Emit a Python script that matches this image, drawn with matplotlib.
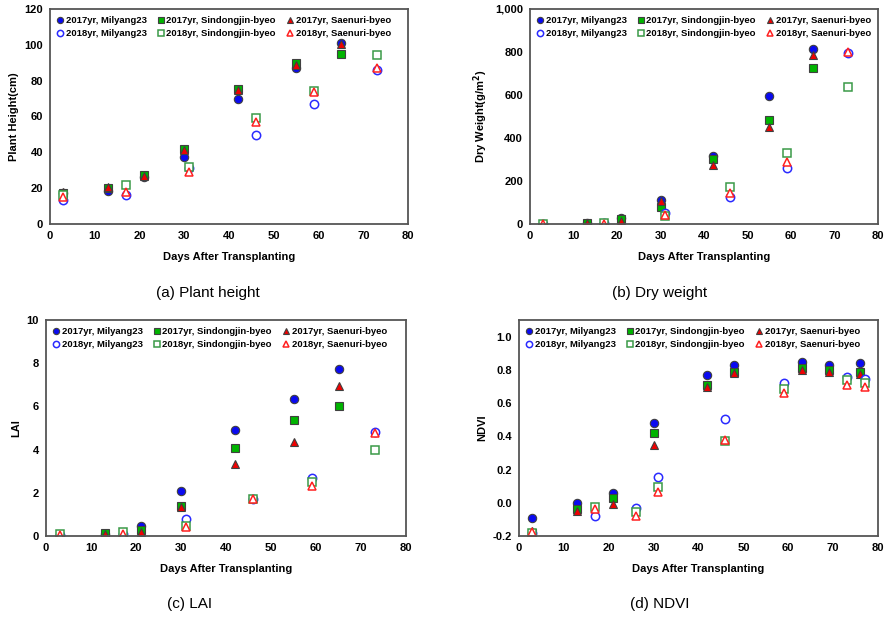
import numpy as np
import matplotlib
matplotlib.use("Agg")
from matplotlib import pyplot as plt

plt.rcParams['font.family'] = ['Liberation Sans', 'DejaVu Sans']

#####
#
# data
#
#####

nan = np.nan

days_2017 = [3, 13, 21, 30, 42, 55, 65]
days_2018 = [3, 17, 31, 46, 59, 73]

# (a) plant height, cm
height_2017_mil = [17.5, 18.5, 26.5, 37.3, 70.0, 87.0, 101.0]
height_2017_sin = [17.5, 20.0, 27.4, 42.0, 75.3, 89.8, 94.8]
height_2017_sae = [18.0, 20.5, 26.8, 41.4, 75.0, 89.0, 100.4]
height_2018_mil = [13.4, 16.4, 31.0, 49.4, 67.0, 85.7]
height_2018_sin = [16.0, 21.6, 32.0, 58.9, 74.5, 94.5]
height_2018_sae = [15.3, 18.0, 28.9, 57.0, 73.6, 86.8]

# (b) dry weight, g/m2 (no 2017 value visible on day 3)
dw_2017_mil = [nan, 5, 29, 112, 317, 596, 814]
dw_2017_sin = [nan, 5, 22, 81, 304, 484, 724]
dw_2017_sae = [nan, 5, 14, 107, 276, 449, 787]
dw_2018_mil = [2, 3, 50, 127, 259, 795]
dw_2018_sin = [2, 3, 37, 172, 332, 637]
dw_2018_sae = [2, 2, 42, 146, 287, 798]

# (c) LAI
lai_2017_mil = [nan, 0.10, 0.45, 2.09, 4.93, 6.32, 7.74]
lai_2017_sin = [nan, 0.14, 0.29, 1.38, 4.06, 5.38, 6.01]
lai_2017_sae = [nan, 0.10, 0.19, 1.36, 3.35, 4.36, 6.94]
lai_2018_mil = [0.05, 0.10, 0.77, 1.70, 2.69, 4.81]
lai_2018_sin = [0.10, 0.17, 0.45, 1.70, 2.49, 4.00]
lai_2018_sae = [0.05, 0.08, 0.42, 1.70, 2.30, 4.75]

# (d) NDVI has more dates
ndvi_days_2017 = [3, 13, 21, 30, 42, 48, 63, 69, 76]
ndvi_days_2018 = [3, 17, 26, 31, 46, 59, 73, 77]
ndvi_2017_mil = [-0.093, -0.004, 0.058, 0.48, 0.77, 0.827, 0.847, 0.83, 0.84]
ndvi_2017_sin = [-0.18, -0.04, 0.03, 0.417, 0.706, 0.79, 0.81, 0.80, 0.79]
ndvi_2017_sae = [-0.17, -0.052, -0.01, 0.35, 0.696, 0.78, 0.80, 0.785, 0.775]
ndvi_2018_mil = [-0.18, -0.079, -0.03, 0.157, 0.506, 0.718, 0.756, 0.746]
ndvi_2018_sin = [-0.18, -0.028, -0.056, 0.097, 0.369, 0.685, 0.736, 0.722]
ndvi_2018_sae = [-0.175, -0.04, -0.079, 0.065, 0.38, 0.66, 0.71, 0.695]

labels = ["2017yr, Milyang23", "2018yr, Milyang23",
          "2017yr, Sindongjin-byeo", "2018yr, Sindongjin-byeo",
          "2017yr, Saenuri-byeo", "2018yr, Saenuri-byeo"]

BLUE = "#0a0af0"
GREEN = "#00b400"
RED = "#f00000"
EDGE = "#404040"
MS = 6.0


def draw_panel(ax, d17, d18, s17, s18, ylim, yticks, ylabel, fmt=None):
    """s17 / s18 are (milyang, sindongjin, saenuri) lists"""
    h = {}
    h[0], = ax.plot(d17, s17[0], 'o', ms=MS, mfc=BLUE, mec=EDGE, mew=0.8, ls='none')
    h[2], = ax.plot(d17, s17[1], 's', ms=MS, mfc=GREEN, mec=EDGE, mew=0.8, ls='none')
    h[4], = ax.plot(d17, s17[2], '^', ms=MS, mfc=RED, mec=EDGE, mew=0.8, ls='none')
    h[1], = ax.plot(d18, s18[0], 'o', ms=MS, mfc='white', mec='#2a2aff', mew=1.1, ls='none')
    h[3], = ax.plot(d18, s18[1], 's', ms=MS, mfc='white', mec='#3a9a48', mew=1.1, ls='none')
    h[5], = ax.plot(d18, s18[2], '^', ms=MS, mfc='white', mec='#ff2020', mew=1.1, ls='none')

    ax.set_xlim(0, 80)
    ax.set_xticks(range(0, 81, 10))
    ax.set_ylim(*ylim)
    ax.set_yticks(yticks)
    if fmt is not None:
        ax.set_yticklabels([fmt(v) for v in yticks])
    ax.tick_params(length=0, labelsize=8, pad=5)
    for lab in ax.get_xticklabels() + ax.get_yticklabels():
        lab.set_fontweight('bold')
    for sp in ax.spines.values():
        sp.set_color('#555555')
        sp.set_linewidth(1.3)

    ax.set_xlabel("Days After Transplanting", fontsize=8, fontweight='bold', labelpad=8)
    ax.set_ylabel(ylabel, fontsize=8, fontweight='bold')

    ax.legend([h[i] for i in range(6)], labels, ncol=3, loc='upper left',
              bbox_to_anchor=(0.0, 1.0), frameon=False,
              prop={'weight': 'bold', 'size': 6.8}, markerscale=0.75,
              handlelength=0.6, handletextpad=0.3, columnspacing=1.2,
              labelspacing=0.45, borderaxespad=0.35)


fig = plt.figure(figsize=(8.9, 6.17), dpi=100)

ax_a = fig.add_axes([50 / 890, 1 - 224 / 617, 358 / 890, 215 / 617])
ax_b = fig.add_axes([530 / 890, 1 - 224 / 617, 348 / 890, 215 / 617])
ax_c = fig.add_axes([46 / 890, 1 - 536 / 617, 360 / 890, 216 / 617])
ax_d = fig.add_axes([519 / 890, 1 - 536 / 617, 359 / 890, 216 / 617])

draw_panel(ax_a, days_2017, days_2018,
           (height_2017_mil, height_2017_sin, height_2017_sae),
           (height_2018_mil, height_2018_sin, height_2018_sae),
           (0, 120), range(0, 121, 20), "Plant Height(cm)")

draw_panel(ax_b, days_2017, days_2018,
           (dw_2017_mil, dw_2017_sin, dw_2017_sae),
           (dw_2018_mil, dw_2018_sin, dw_2018_sae),
           (0, 1000), range(0, 1001, 200), r"Dry Weight(g/m$^\mathbf{2}$)",
           fmt=lambda v: "{:,}".format(v))

draw_panel(ax_c, days_2017, days_2018,
           (lai_2017_mil, lai_2017_sin, lai_2017_sae),
           (lai_2018_mil, lai_2018_sin, lai_2018_sae),
           (0, 10), range(0, 11, 2), "LAI")

draw_panel(ax_d, ndvi_days_2017, ndvi_days_2018,
           (ndvi_2017_mil, ndvi_2017_sin, ndvi_2017_sae),
           (ndvi_2018_mil, ndvi_2018_sin, ndvi_2018_sae),
           (-0.2, 1.1), [-0.2, 0.0, 0.2, 0.4, 0.6, 0.8, 1.0], "NDVI",
           fmt=lambda v: "{:.1f}".format(v))

# panel captions
fig.text(208 / 890, 1 - 293 / 617, "(a) Plant height", ha='center', va='center',
         fontsize=11)
fig.text(660 / 890, 1 - 293 / 617, "(b) Dry weight", ha='center', va='center',
         fontsize=11)
fig.text(190 / 890, 1 - 604 / 617, "(c) LAI", ha='center', va='center',
         fontsize=11)
fig.text(660 / 890, 1 - 604 / 617, "(d) NDVI", ha='center', va='center',
         fontsize=11)

fig.savefig("out.png", dpi=100)
